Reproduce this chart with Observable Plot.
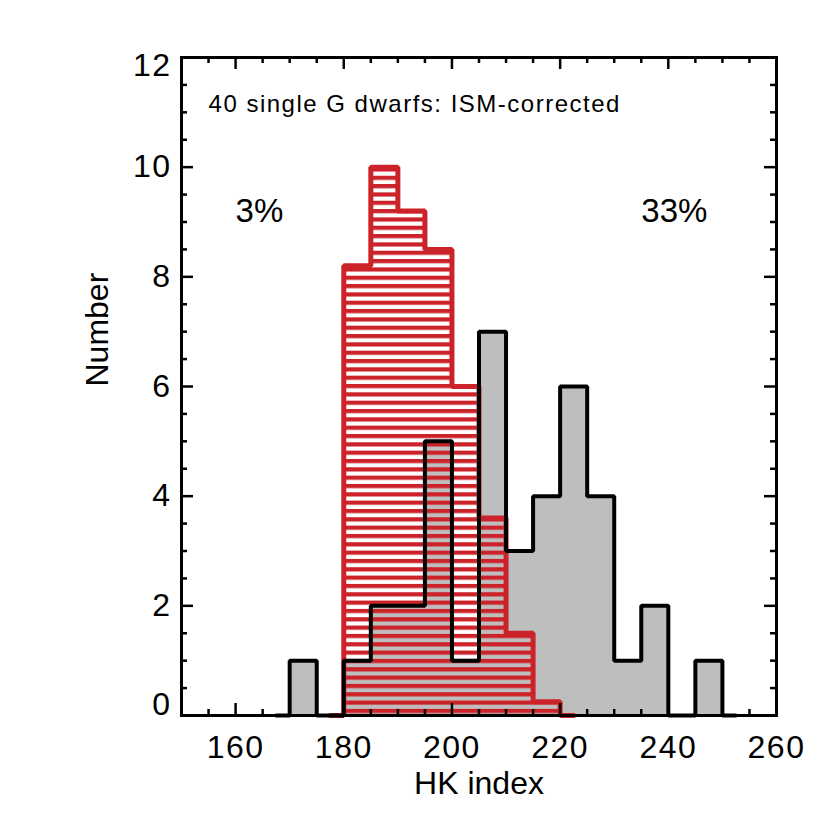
<!DOCTYPE html>
<html><head><meta charset="utf-8">
<script src="https://cdn.jsdelivr.net/npm/d3@7"></script>
<script src="https://cdn.jsdelivr.net/npm/@observablehq/plot@0.6"></script>
<style>
html,body{margin:0;padding:0;background:#fff;}
#chart svg{display:block;}
g[aria-label="x-axis tick label"] text, g[aria-label="y-axis tick label"] text{letter-spacing:1.5px;}
</style></head><body>
<svg width="0" height="0" style="position:absolute">
<defs><pattern id="hatch" patternUnits="userSpaceOnUse" x="0" y="0.8" width="20" height="8.33"><rect x="0" y="0" width="20" height="4.2" fill="#cc2229"/></pattern></defs></svg>
<div id="chart"></div>
<script>
// Data
const binWidth = 5;
const grayBins   = [170,175,180,185,190,195,200,205,210,215,220,225,230,235,240,245];
const grayCounts = [1,  0,  1,  2,  2,  5,  1,  7,  3,  4,  6,  4,  1,  2,  0,  1];
const redBins    = [180,185,190,195,200,205,210,215];
const redCounts  = [8.2,10, 9.2,8.5,6,  3.6,1.5,0.25];
const xMajor = [160,180,200,220,240,260];
const xMinor = [150,155,165,170,175,185,190,195,205,210,215,225,230,235,245,250,255];
const yMajor = [0,2,4,6,8,10,12];
const yMinor = [0.5,1,1.5,2.5,3,3.5,4.5,5,5.5,6.5,7,7.5,8.5,9,9.5,10.5,11,11.5];
const titleText = ["40 single G dwarfs: ISM-corrected"];
const titleX = [155], titleY = [11.15];
const pctText = ["3%","33%"];
const pctX = [160,235], pctY = [9.2,9.2];

function stepPoints(bins, counts){
  const pts = [{x: bins[0]-binWidth/2, y:0}, {x: bins[0], y:0}];
  bins.forEach((b,i)=>pts.push({x:b, y:counts[i]}));
  const end = bins[bins.length-1]+binWidth;
  pts.push({x:end, y:0});
  pts.push({x:end+binWidth/2, y:0});
  return pts;
}
const W = 830, H = 830, mL = 181, mR = 54, mT = 57, mB = 115;
const PH = H - mT - mB, PW = W - mL - mR;
const red = "#cc2229";
const font = 32;
const fmt = d => String(d);
const graySteps = stepPoints(grayBins, grayCounts);
const redSteps = stepPoints(redBins, redCounts);

const svg = Plot.plot({
  width: W, height: H,
  marginLeft: mL, marginRight: mR, marginTop: mT, marginBottom: mB,
  x: {domain: [150,260]},
  y: {domain: [0,12]},
  style: {fontFamily: "'Liberation Sans', Arial, Helvetica, sans-serif", color: "black", background: "white", overflow: "visible"},
  marks: [
    Plot.areaY(graySteps, {x:"x", y:"y", curve:"step-after", fill:"#bebebe"}),
    Plot.areaY(redSteps, {x:"x", y:"y", curve:"step-after", fill:"url(#hatch)"}),
    Plot.line(redSteps, {x:"x", y:"y", curve:"step-after", stroke:red, strokeWidth:5, strokeLinejoin:"miter"}),
    Plot.line(graySteps, {x:"x", y:"y", curve:"step-after", stroke:"black", strokeWidth:4, strokeLinejoin:"miter"}),
    // inward ticks, all four sides
    Plot.tickX(xMajor, {x:d=>d, insetTop: PH-12, stroke:"black", strokeWidth:2.5}),
    Plot.tickX(xMinor, {x:d=>d, insetTop: PH-6, stroke:"black", strokeWidth:2.5}),
    Plot.tickX(xMajor, {x:d=>d, insetBottom: PH-12, stroke:"black", strokeWidth:2.5}),
    Plot.tickX(xMinor, {x:d=>d, insetBottom: PH-6, stroke:"black", strokeWidth:2.5}),
    Plot.tickY(yMajor, {y:d=>d, insetRight: PW-12, stroke:"black", strokeWidth:2.5}),
    Plot.tickY(yMinor, {y:d=>d, insetRight: PW-6, stroke:"black", strokeWidth:2.5}),
    Plot.tickY(yMajor, {y:d=>d, insetLeft: PW-12, stroke:"black", strokeWidth:2.5}),
    Plot.tickY(yMinor, {y:d=>d, insetLeft: PW-6, stroke:"black", strokeWidth:2.5}),
    Plot.frame({stroke:"black", strokeWidth:3}),
    // tick labels
    Plot.axisX(xMajor, {anchor:"bottom", tickSize:0, tickPadding:20, fontSize:font, label:null, tickFormat:fmt}),
    Plot.axisY(yMajor.slice(1,-1), {anchor:"left", tickSize:0, tickPadding:10, fontSize:font, label:null, tickFormat:fmt}),
    Plot.axisY(yMajor.slice(0,1), {anchor:"left", tickSize:0, tickPadding:10, fontSize:font, label:null, tickFormat:fmt, dy:-11}),
    Plot.axisY(yMajor.slice(-1), {anchor:"left", tickSize:0, tickPadding:10, fontSize:font, label:null, tickFormat:fmt, dy:8}),
    // axis titles
    Plot.text(["HK index"], {text:d=>d, frameAnchor:"bottom", dy:78, lineAnchor:"bottom", fontSize:font}),
    Plot.text(["Number"], {text:d=>d, frameAnchor:"left", rotate:-90, dx:-74, lineAnchor:"bottom", fontSize:font}),
    // annotations
    Plot.text(titleText, {text:d=>d, x:(d,i)=>titleX[i], y:(d,i)=>titleY[i], textAnchor:"start", lineAnchor:"middle", fontSize:24}),
    Plot.text(pctText, {text:d=>d, x:(d,i)=>pctX[i], y:(d,i)=>pctY[i], textAnchor:"start", lineAnchor:"middle", fontSize:33})
  ]
});
d3.select(svg).selectAll("text").filter(function(){return this.textContent === titleText[0];}).style("letter-spacing","1.5px");
document.getElementById("chart").appendChild(svg);
</script>
</body></html>
